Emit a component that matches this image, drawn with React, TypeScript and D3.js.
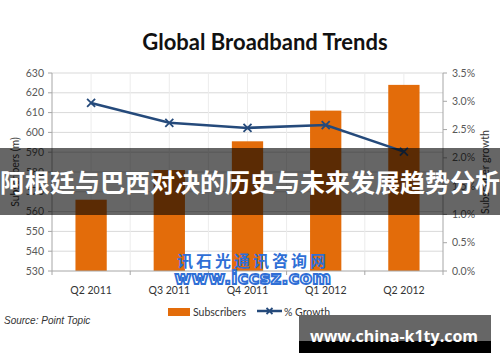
import React from "react";
import * as d3 from "d3";

const quarters = ["Q2 2011", "Q3 2011", "Q4 2011", "Q1 2012", "Q2 2012"];
const subscribers = [566, 581, 595.5, 611, 624];
const growth = [2.97, 2.62, 2.53, 2.58, 2.11];
const leftTicks = [530, 540, 550, 560, 570, 580, 590, 600, 610, 620, 630];
const rightTicks = [0, 0.5, 1, 1.5, 2, 2.5, 3, 3.5];

const W = 500;
const H = 362;
const plot = { left: 52, right: 443, top: 73, bottom: 271 };

const font = "Lato, 'Open Sans', sans-serif";

const App = () => {
  const x = d3
    .scaleBand<string>()
    .domain(quarters)
    .range([plot.left, plot.right])
    .paddingInner(0.6)
    .paddingOuter(0.3);
  const band = (plot.right - plot.left) / quarters.length;
  const yL = d3.scaleLinear().domain([530, 630]).range([plot.bottom, plot.top]);
  const yR = d3.scaleLinear().domain([0, 3.5]).range([plot.bottom, plot.top]);
  const cx = (q: string) => (x(q) as number) + x.bandwidth() / 2;

  const line = d3
    .line<number>()
    .x((d, i) => cx(quarters[i]))
    .y((d) => yR(d));

  const vGrid = d3.range(1, quarters.length * 2).map((i) => plot.left + (i * band) / 2);
  const bandEdges = d3.range(0, quarters.length + 1).map((i) => plot.left + i * band);

  const cross = (px: number, py: number, s = 4) =>
    `M${px - s},${py - s}L${px + s},${py + s}M${px - s},${py + s}L${px + s},${py - s}`;

  return (
    <div style={{ position: "fixed", left: 0, top: 0 }}>
      <svg width={W} height={H} style={{ display: "block", background: "#fff" }}>
        <text x={265} y={50} textAnchor="middle" fontFamily={font} fontWeight="bold" fontSize={22} fill="#111">
          Global Broadband Trends
        </text>

        {/* grid */}
        {leftTicks.slice(1).map((t) => (
          <line key={t} x1={plot.left} x2={plot.right} y1={yL(t)} y2={yL(t)} stroke="#d9d9d9" strokeWidth={1} />
        ))}
        {vGrid.map((gx) => (
          <line key={gx} x1={gx} x2={gx} y1={plot.top} y2={plot.bottom} stroke="#ececec" strokeWidth={1} />
        ))}

        {/* bars */}
        {quarters.map((q, i) => (
          <rect
            key={q}
            x={x(q)}
            y={yL(subscribers[i])}
            width={x.bandwidth()}
            height={plot.bottom - yL(subscribers[i])}
            fill="#E36C0A"
          />
        ))}

        {/* axes */}
        <line x1={plot.left} x2={plot.left} y1={plot.top} y2={plot.bottom} stroke="#a6a6a6" />
        <line x1={plot.right} x2={plot.right} y1={plot.top} y2={plot.bottom} stroke="#a6a6a6" />
        <line x1={plot.left} x2={plot.right} y1={plot.bottom} y2={plot.bottom} stroke="#a6a6a6" />
        {leftTicks.map((t) => (
          <g key={t}>
            <line x1={plot.left - 4} x2={plot.left} y1={yL(t)} y2={yL(t)} stroke="#a6a6a6" />
            <text x={plot.left - 8} y={yL(t) + 3.5} textAnchor="end" fontFamily={font} fontSize={10.5} fill="#595959">
              {t}
            </text>
          </g>
        ))}
        {rightTicks.map((t) => (
          <g key={t}>
            <line x1={plot.right} x2={plot.right + 4} y1={yR(t)} y2={yR(t)} stroke="#a6a6a6" />
            <text x={plot.right + 9} y={yR(t) + 3.5} textAnchor="start" fontFamily={font} fontSize={10.5} fill="#595959">
              {t.toFixed(1)}%
            </text>
          </g>
        ))}
        {bandEdges.map((bx) => (
          <line key={bx} x1={bx} x2={bx} y1={plot.bottom} y2={plot.bottom + 4} stroke="#a6a6a6" />
        ))}
        {quarters.map((q) => (
          <text key={q} x={cx(q)} y={294} textAnchor="middle" fontFamily={font} fontSize={10.5} fill="#333">
            {q}
          </text>
        ))}
        <text
          transform={`translate(19,${(plot.top + plot.bottom) / 2}) rotate(-90)`}
          textAnchor="middle"
          fontFamily={font}
          fontSize={10.5}
          fill="#333"
        >
          Subscribers (m)
        </text>
        <text
          transform={`translate(489,${(plot.top + plot.bottom) / 2}) rotate(-90)`}
          textAnchor="middle"
          fontFamily={font}
          fontSize={10.5}
          fill="#333"
        >
          Subscriber growth
        </text>

        {/* line */}
        <path d={line(growth) || ""} fill="none" stroke="#254A7B" strokeWidth={2.5} />
        {growth.map((g, i) => (
          <path key={i} d={cross(cx(quarters[i]), yR(g))} stroke="#254A7B" strokeWidth={1.8} />
        ))}

        {/* legend */}
        <rect x={168} y={308} width={22} height={8} fill="#E36C0A" />
        <text x={193} y={316} fontFamily={font} fontSize={10.5} fill="#333">
          Subscribers
        </text>
        <line x1={257} x2={282} y1={311} y2={311} stroke="#254A7B" strokeWidth={2.5} />
        <path d={cross(269.5, 311, 3)} stroke="#254A7B" strokeWidth={1.8} />
        <text x={284} y={316} fontFamily={font} fontSize={10.5} fill="#333">
          % Growth
        </text>

        <text x={4} y={324} fontFamily="'Liberation Sans', Arial, sans-serif" fontStyle="italic" fontSize={10} fill="#333">
          Source: Point Topic
        </text>

        {/* watermark */}
        <text x={253} y={267} textAnchor="middle" fontFamily="'Noto Sans CJK SC', sans-serif" fontWeight="bold" fontSize={16} fill="#2F6FD6" letterSpacing={3}>
          讯石光通讯咨询网
        </text>
        <text
          x={253}
          y={284}
          textAnchor="middle"
          fontFamily="'DejaVu Sans', sans-serif"
          fontWeight="bold"
          fontSize={18}
          fill="#fff"
          stroke="#2F6FD6"
          strokeWidth={1.8}
          letterSpacing={0.3}
        >
          www.iccsz.com
        </text>

        {/* overlay banner */}
        <rect x={0} y={148} width={W} height={67} fill="#000" opacity={0.6} />
        <text x={250} y={192} textAnchor="middle" fontFamily="'Noto Sans CJK SC', sans-serif" fontWeight="bold" fontSize={25} fill="#fff">
          阿根廷与巴西对决的历史与未来发展趋势分析
        </text>

        {/* site badge */}
        <rect x={299} y={315} width={192} height={26} fill="#666" />
        <rect x={299} y={341} width={192} height={12} fill="#000" />
        <text x={394} y={342} textAnchor="middle" fontFamily="'Open Sans', sans-serif" fontWeight="bold" fontSize={16} fill="#fff">
          www.china-k1ty.com
        </text>
      </svg>
    </div>
  );
};

export default App;
